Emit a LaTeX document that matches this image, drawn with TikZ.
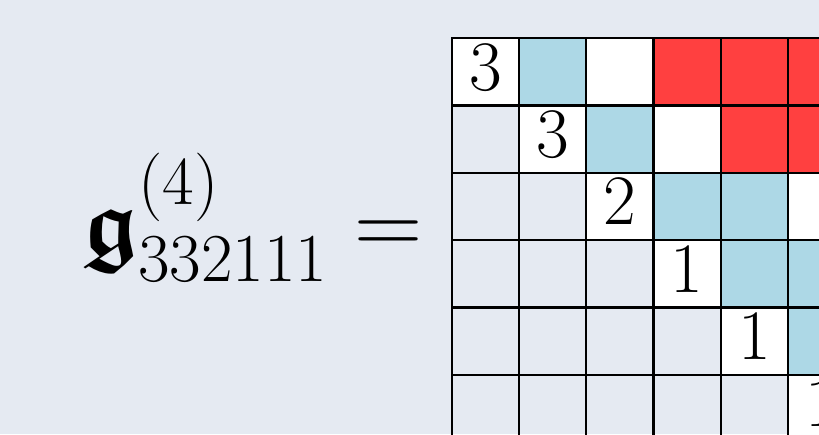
\documentclass[tikz,border=0pt]{standalone}
\usepackage{fix-cm}
\usepackage{amsmath,amssymb,bm}
\DeclareFontFamily{U}{euf}{}
\DeclareFontShape{U}{euf}{m}{n}{<-> eufm10}{}
\DeclareFontShape{U}{euf}{b}{n}{<-> eufb10}{}
\DeclareMathSizes{40}{40}{29}{21}
\definecolor{bgcol}{HTML}{E5EAF2}
\definecolor{cellblue}{HTML}{ADD8E6}
\definecolor{cellred}{HTML}{FF4040}

\begin{document}
\begin{tikzpicture}[
    box/.style={draw=black, line width=1pt},
    num/.style={anchor=base, inner sep=0pt, font=\fontsize{30}{36}\selectfont}
  ]
  \useasboundingbox[fill=bgcol] (-6.712,0.569) rectangle (5.458,-5.880);
  \clip (-6.712,0.569) rectangle (5.458,-5.880);
  % coloured cells
  \foreach \c/\r/\col in {0/0/white, 2/0/white, 1/1/white, 3/1/white, 2/2/white, 5/2/white,
      3/3/white, 4/4/white, 5/5/white,
      1/0/cellblue, 2/1/cellblue, 3/2/cellblue, 4/2/cellblue, 4/3/cellblue, 5/3/cellblue, 5/4/cellblue,
      3/0/cellred, 4/0/cellred, 5/0/cellred, 4/1/cellred, 5/1/cellred}
    \fill[\col] (\c,-\r) rectangle ++(1,-1);
  % grid
  \foreach \r in {0,...,5}
    \foreach \c in {0,...,5}
      \draw[box] (\c,-\r) rectangle ++(1,-1);
  % diagonal entries
  \foreach \i/\v in {0/3, 1/3, 2/2, 3/1, 4/1, 5/1}
    \node[num] (d\i) at (\i+0.5,-\i-0.77) {\v};
  % left-hand side
  \node[anchor=base east, inner sep=0pt, font=\fontsize{40}{48}\selectfont] (lhs)
    at (-0.424,-3.21) {$\displaystyle\bm{\mathfrak{g}}^{(4)}_{332111}=$};
\end{tikzpicture}
\end{document}
